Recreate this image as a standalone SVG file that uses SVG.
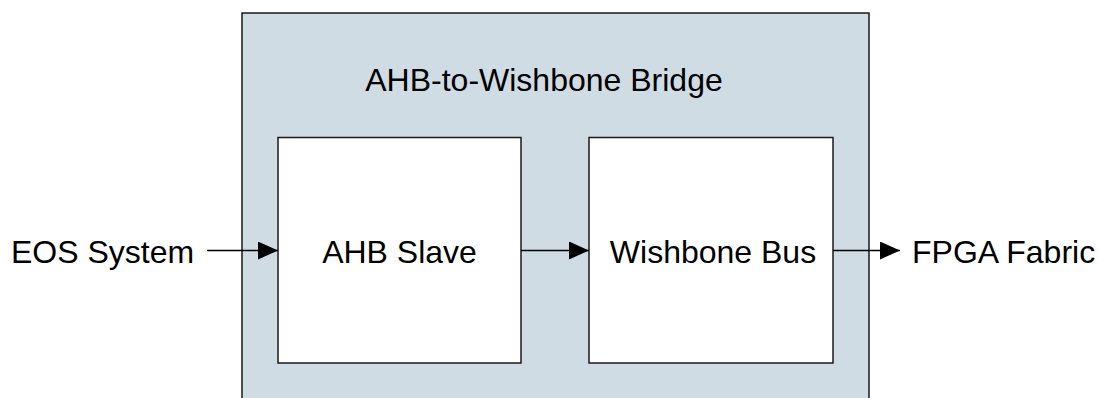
<svg xmlns="http://www.w3.org/2000/svg" width="1099" height="398" viewBox="0 0 1099 398">
<style>
  .box { stroke: #1a1a1a; stroke-width: 1.5; }
  .lbl { font-family: "Liberation Sans", Arial, sans-serif; font-size: 32px; fill: #000; }
  .conn { stroke: #000; stroke-width: 1.5; fill: none; marker-end: url(#arrow); }
</style>
<defs>
  <marker id="arrow" markerWidth="20" markerHeight="18" refX="20" refY="9" orient="auto" markerUnits="userSpaceOnUse">
    <path d="M0,0 L20,9 L0,18 Z" fill="#000"/>
  </marker>
</defs>
<rect width="1099" height="398" fill="#fff"/>
<g id="bridge">
  <rect class="box" x="242" y="13" width="627" height="400" fill="#D0DCE4"/>
  <text class="lbl" x="544" y="91" text-anchor="middle">AHB-to-Wishbone Bridge</text>
</g>
<g id="ahb-slave">
  <rect class="box" x="278" y="137.5" width="243" height="225.5" fill="#fff"/>
  <text class="lbl" x="399.5" y="263" text-anchor="middle">AHB Slave</text>
</g>
<g id="wishbone-bus">
  <rect class="box" x="589" y="137.5" width="244" height="225.5" fill="#fff"/>
  <text class="lbl" x="713" y="263" text-anchor="middle">Wishbone Bus</text>
</g>
<g id="eos-system">
  <text class="lbl" x="11" y="263">EOS System</text>
</g>
<g id="fpga-fabric">
  <text class="lbl" x="912" y="263">FPGA Fabric</text>
</g>
<g id="connectors">
  <line class="conn" x1="207" y1="250.5" x2="278" y2="250.5"/>
  <line class="conn" x1="521" y1="250.5" x2="589" y2="250.5"/>
  <line class="conn" x1="833" y1="250.5" x2="900" y2="250.5"/>
</g>
</svg>
